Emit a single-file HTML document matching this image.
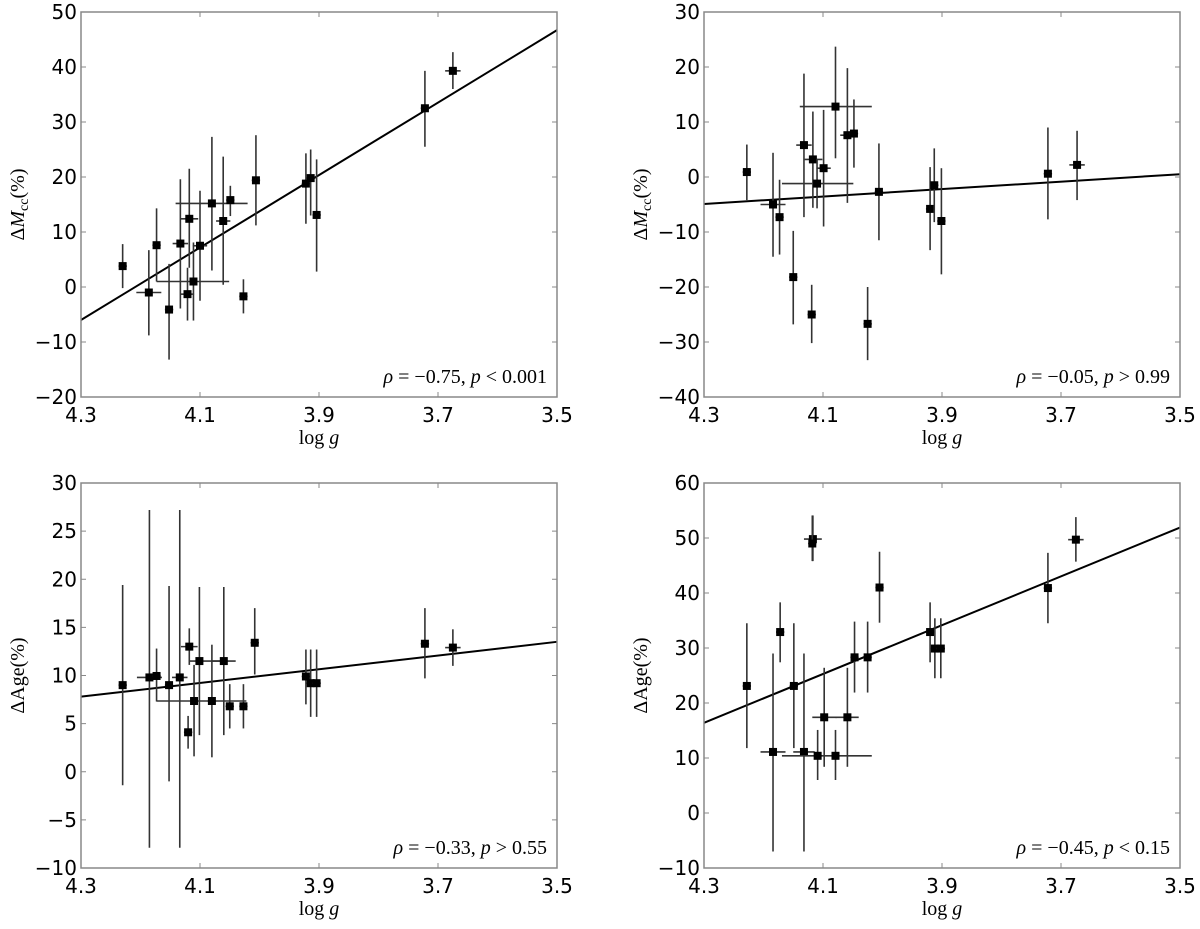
<!DOCTYPE html>
<html><head><meta charset="utf-8"><style>
body{margin:0;background:#fff;}
svg{display:block;}
.tk{font-family:"DejaVu Sans","Liberation Sans",sans-serif;font-size:20px;fill:#000;}
.lab{font-family:"Liberation Serif",serif;font-size:20px;fill:#000;}
</style></head><body>
<svg id="chart" width="1200" height="929" viewBox="0 0 1200 929" xmlns="http://www.w3.org/2000/svg"></svg>
<script>
// Panel 1: Delta M_cc vs log g
const p1G   =[4.230,4.186,4.173,4.152,4.133,4.118,4.121,4.111,4.100,4.080,4.061,4.049,4.027,4.006,3.922,3.914,3.904,3.722,3.675];
const p1V   =[3.8,-1.0,7.6,-4.1,7.9,12.4,-1.3,1.0,7.5,15.2,12.0,15.8,-1.7,19.4,18.8,19.8,13.1,32.5,39.3];
const p1Lo  =[-0.2,-8.8,1.0,-13.2,-3.9,3.5,-6.1,-6.1,-2.5,3.0,0.4,12.9,-4.8,11.2,11.5,13.0,2.8,25.5,36.0];
const p1Hi  =[7.8,6.7,14.3,4.2,19.6,21.5,3.5,8.1,17.5,27.3,23.7,18.4,1.4,27.6,24.3,25.0,23.2,39.3,42.7];
const p1GLo =[4.237,4.207,4.180,4.159,4.146,4.133,4.132,4.173,4.112,4.141,4.073,4.056,4.034,4.013,3.929,3.921,3.911,3.729,3.688];
const p1GHi =[4.223,4.165,4.166,4.145,4.120,4.103,4.110,4.051,4.088,4.020,4.049,4.042,4.020,3.999,3.915,3.907,3.897,3.715,3.662];
const p1Fit =[-6.0,46.7];
// Panel 2: Delta M_cc (second set)
const p2G   =[4.228,4.184,4.173,4.150,4.132,4.119,4.117,4.110,4.099,4.079,4.059,4.048,4.025,4.006,3.920,3.913,3.901,3.722,3.673];
const p2V   =[0.9,-5.0,-7.3,-18.2,5.8,-25.0,3.2,-1.2,1.6,12.8,7.6,7.9,-26.7,-2.7,-5.8,-1.5,-8.0,0.6,2.2];
const p2Lo  =[-4.2,-14.5,-14.1,-26.8,-7.3,-30.2,-5.6,-5.7,-9.0,3.4,-4.7,1.7,-33.3,-11.5,-13.3,-8.2,-17.7,-7.7,-4.2];
const p2Hi  =[5.9,4.4,-0.5,-9.8,18.8,-19.6,11.9,3.3,12.2,23.7,19.8,14.1,-20.0,6.1,1.8,5.2,1.6,9.0,8.4];
const p2GLo =[4.235,4.205,4.180,4.157,4.145,4.126,4.131,4.169,4.111,4.139,4.071,4.055,4.032,4.013,3.927,3.920,3.908,3.729,3.686];
const p2GHi =[4.221,4.163,4.166,4.143,4.119,4.112,4.101,4.049,4.087,4.018,4.047,4.041,4.018,3.999,3.913,3.906,3.894,3.715,3.660];
const p2Fit =[-4.9,0.5];
// Panel 3: Delta Age
const p3G   =[4.230,4.185,4.173,4.152,4.134,4.118,4.120,4.110,4.101,4.080,4.060,4.050,4.027,4.008,3.922,3.914,3.904,3.722,3.675];
const p3V   =[9.0,9.8,9.95,9.0,9.8,13.0,4.1,7.35,11.5,7.35,11.5,6.8,6.8,13.4,9.9,9.2,9.2,13.3,12.9];
const p3Lo  =[-1.4,-7.9,7.3,-1.0,-7.9,11.1,2.4,1.6,3.8,1.5,3.8,4.5,4.5,10.1,7.0,5.7,5.7,9.7,11.0];
const p3Hi  =[19.4,27.2,12.8,19.3,27.2,14.9,5.8,11.1,19.2,13.2,19.2,9.1,9.1,17.0,12.7,12.7,12.7,17.0,14.8];
const p3GLo =[4.237,4.206,4.180,4.159,4.147,4.132,4.127,4.173,4.119,4.087,4.079,4.057,4.034,4.015,3.929,3.921,3.911,3.729,3.688];
const p3GHi =[4.223,4.164,4.166,4.145,4.121,4.104,4.113,4.022,4.060,4.073,4.040,4.043,4.020,4.001,3.915,3.907,3.897,3.715,3.662];
const p3Fit =[7.8,13.5];
// Panel 4: Delta Age (second set)
const p4G   =[4.228,4.184,4.172,4.149,4.132,4.117,4.118,4.109,4.098,4.079,4.059,4.047,4.025,4.005,3.920,3.912,3.902,3.722,3.675];
const p4V   =[23.1,11.1,32.9,23.1,11.1,49.8,49.0,10.4,17.4,10.4,17.4,28.3,28.3,41.0,32.9,29.9,29.9,40.9,49.7];
const p4Lo  =[11.8,-7.0,27.4,11.8,-7.0,45.8,45.8,6.0,8.4,6.0,8.4,21.9,21.9,34.6,27.4,24.5,24.5,34.5,45.7];
const p4Hi  =[34.5,29.0,38.3,34.5,29.0,54.1,54.1,15.1,26.4,15.1,26.4,34.8,34.8,47.5,38.3,35.4,35.4,47.3,53.8];
const p4GLo =[4.235,4.205,4.179,4.156,4.150,4.132,4.125,4.169,4.118,4.086,4.079,4.054,4.032,4.012,3.927,3.919,3.909,3.729,3.688];
const p4GHi =[4.221,4.163,4.165,4.142,4.114,4.102,4.111,4.018,4.077,4.072,4.040,4.040,4.018,3.998,3.913,3.905,3.895,3.715,3.662];
const p4Fit =[16.4,51.9];

const xTicks=[4.3,4.1,3.9,3.7,3.5];
const xTickLabels=["4.3","4.1","3.9","3.7","3.5"];
const p1Ticks=[-20,-10,0,10,20,30,40,50];
const p2Ticks=[-40,-30,-20,-10,0,10,20,30];
const p3Ticks=[-10,-5,0,5,10,15,20,25,30];
const p4Ticks=[-10,0,10,20,30,40,50,60];

const NS="http://www.w3.org/2000/svg";
const svg=document.getElementById('chart');
function mk(tag,attrs,parent){const e=document.createElementNS(NS,tag);for(const k in attrs)e.setAttribute(k,attrs[k]);(parent||svg).appendChild(e);return e;}

function panel(id,L,T,ymin,ymax,ticks,G,V,Lo,Hi,GLo,GHi,fit,ylabelHTML,annot){
  const W=476,H=385,R=L+W,B=T+H;
  const X=g=>L+(4.3-g)/0.8*W;
  const Y=v=>T+(ymax-v)/(ymax-ymin)*H;
  const g=mk('g',{});
  
  
  const fl=mk('line',{x1:X(4.3),y1:Y(fit[0]),x2:X(3.5),y2:Y(fit[1]),stroke:'#000','stroke-width':2},g);
  
  
  for(let i=0;i<G.length;i++){
    const pg=mk('g',{},g);
    
    
    mk('line',{x1:X(G[i]),y1:Y(Lo[i]),x2:X(G[i]),y2:Y(Hi[i]),stroke:'#333','stroke-width':1.6},pg);
    mk('line',{x1:X(GLo[i]),y1:Y(V[i]),x2:X(GHi[i]),y2:Y(V[i]),stroke:'#333','stroke-width':1.6},pg);
    mk('rect',{x:X(G[i])-4,y:Y(V[i])-4,width:8,height:8,fill:'#000'},pg);
  }
  const fr=mk('rect',{x:L,y:T,width:W,height:H,fill:'none',stroke:'#888','stroke-width':1.5},g);
  
  
  ticks.forEach(t=>{
    const y=Y(t);
    mk('line',{x1:L,y1:y,x2:L+5,y2:y,stroke:'#888','stroke-width':1},g);
    mk('line',{x1:R-5,y1:y,x2:R,y2:y,stroke:'#888','stroke-width':1},g);
    const tx=mk('text',{x:L-4,y:y+7,'text-anchor':'end',class:'tk'},g);
    tx.textContent=(t<0?'\u2212'+(-t):''+t);
    
    
  });
  xTicks.forEach((t,i)=>{
    const x=X(t);
    mk('line',{x1:x,y1:B,x2:x,y2:B-5,stroke:'#888','stroke-width':1},g);
    mk('line',{x1:x,y1:T,x2:x,y2:T+5,stroke:'#888','stroke-width':1},g);
    const tx=mk('text',{x:x,y:B+25,'text-anchor':'middle',class:'tk'},g);
    tx.textContent=xTickLabels[i];
    
    
  });
  const xl=mk('text',{x:L+W/2,y:B+47,'text-anchor':'middle',class:'lab'},g);
  xl.innerHTML='log <tspan font-style="italic">g</tspan>';
  
  
  const yl=mk('text',{x:0,y:0,'text-anchor':'middle',class:'lab',transform:`translate(${L-57},${T+H/2}) rotate(-90)`},g);
  yl.innerHTML=ylabelHTML;
  
  
  const an=mk('text',{x:R-10,y:B-14,'text-anchor':'end',class:'lab','font-size':'19'},g);
  an.innerHTML=annot;
  
  
}
const mcc='Δ<tspan font-style="italic">M</tspan><tspan font-size="14" dy="4">cc</tspan><tspan dy="-4">(%)</tspan>';
const age='ΔAge(%)';
const ann=(r,op,p)=>`<tspan font-style="italic">ρ</tspan> = −${r}, <tspan font-style="italic">p</tspan> ${op} ${p}`;
panel('top-left',81,12,-20,50,p1Ticks,p1G,p1V,p1Lo,p1Hi,p1GLo,p1GHi,p1Fit,mcc,ann('0.75','<','0.001'));
panel('top-right',704,12,-40,30,p2Ticks,p2G,p2V,p2Lo,p2Hi,p2GLo,p2GHi,p2Fit,mcc,ann('0.05','>','0.99'));
panel('bottom-left',81,483,-10,30,p3Ticks,p3G,p3V,p3Lo,p3Hi,p3GLo,p3GHi,p3Fit,age,ann('0.33','>','0.55'));
panel('bottom-right',704,483,-10,60,p4Ticks,p4G,p4V,p4Lo,p4Hi,p4GLo,p4GHi,p4Fit,age,ann('0.45','<','0.15'));
</script>
</body></html>
